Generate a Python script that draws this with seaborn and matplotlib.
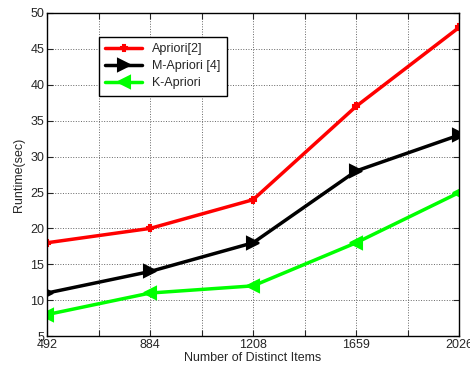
import numpy as np
import pandas as pd
import seaborn as sns
from matplotlib import pyplot as plt

items = ["492", "884", "1208", "1659", "2026"]
apriori = [18, 20, 24, 37, 48]
m_apriori = [11, 14, 18, 28, 33]
k_apriori = [8, 11, 12, 18, 25]

series = ["Apriori[2]", "M-Apriori [4]", "K-Apriori"]
df = pd.DataFrame({
    "pos": list(range(len(items))) * 3,
    "runtime": apriori + m_apriori + k_apriori,
    "algo": np.repeat(series, len(items)),
})

sns.set_style("white")
plt.rcParams["font.family"] = ["Liberation Sans", "DejaVu Sans"]

fig = plt.figure(figsize=(4.7, 3.71), dpi=100)
ax = fig.add_axes([0.1, 0.094, 0.877, 0.871])

palette = {"Apriori[2]": "#ff0000", "M-Apriori [4]": "#000000", "K-Apriori": "#00ff00"}
markers = {"Apriori[2]": "P", "M-Apriori [4]": ">", "K-Apriori": "<"}
msize = {"Apriori[2]": 5, "M-Apriori [4]": 9, "K-Apriori": 9}

for name in series:
    sub = df[df["algo"] == name]
    sns.lineplot(data=sub, x="pos", y="runtime", ax=ax, color=palette[name],
                 marker=markers[name], markersize=msize[name], linewidth=2.5,
                 markeredgecolor=palette[name], markeredgewidth=1.5, label=name)

ticks = np.arange(0, len(items) - 0.9, 0.5)
ax.set_xlim(0, len(items) - 1)
ax.set_ylim(5, 50)
ax.set_xticks(ticks)
ax.set_xticklabels([items[int(t)] if t == int(t) else "" for t in ticks])
ax.set_yticks(range(5, 51, 5))
ax.grid(True, color="#666666", linestyle=":", linewidth=0.7)
ax.tick_params(direction="in", length=4, labelsize=9, top=True, right=True,
               bottom=True, left=True, pad=2)
for s in ax.spines.values():
    s.set_color("black")
    s.set_linewidth(1.0)
ax.set_xlabel("Number of Distinct Items", fontsize=9, labelpad=1)
ax.set_ylabel("Runtime(sec)", fontsize=9, labelpad=4)

leg = ax.legend(loc="upper left", bbox_to_anchor=(0.11, 0.945), fontsize=9,
                frameon=True, fancybox=False, edgecolor="black", framealpha=1,
                handlelength=3.0, borderpad=0.5, labelspacing=0.4)
leg.get_frame().set_linewidth(1.0)

fig.savefig("out.png", dpi=100)
